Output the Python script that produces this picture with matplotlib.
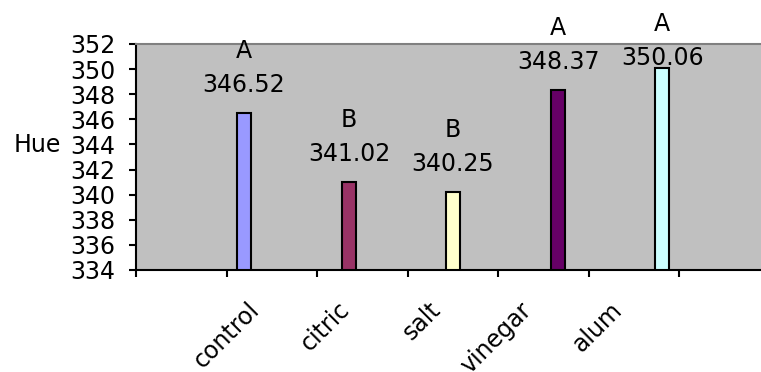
import matplotlib
matplotlib.use("Agg")
import matplotlib.pyplot as plt

# values
treatments = ["control", "citric", "salt", "vinegar", "alum"]
hue_values = [346.52, 341.02, 340.25, 348.37, 350.06]
groups = ["A", "B", "B", "A", "A"]
bar_colors = ["#9999FF", "#993366", "#FFFFCC", "#660066", "#CCFFFF"]

y_ticks = list(range(334, 353, 2))

plt.rcParams["font.family"] = "DejaVu Sans"
FS = 17

fig = plt.figure(figsize=(7.61, 3.72), dpi=100)
# axes runs a little past the right edge like the original Excel export
ax = fig.add_axes([136 / 761, 1 - 270 / 372, 634 / 761, 226 / 372])
ax.set_facecolor("#C0C0C0")

# bar centers (in category units) as they sit in the original
bar_x = [1.192, 2.352, 3.50, 4.66, 5.81]
ax.bar(bar_x, [v - 334 for v in hue_values], bottom=334, width=0.155,
       color=bar_colors, edgecolor="black", linewidth=1.5, zorder=3)

# value labels and significance letters
value_offset = [2.2, 2.2, 2.2, 2.2, 0.85]
for x, v, g, off in zip(bar_x, hue_values, groups, value_offset):
    ax.text(x, v + off, f"{v:.2f}", ha="center", va="center", fontsize=FS,
            clip_on=False, zorder=4)
    ax.text(x, v + off + 2.7, g, ha="center", va="center", fontsize=FS,
            clip_on=False, zorder=4)

ax.set_xlim(0, 7)
ax.set_ylim(334, 352)
ax.set_yticks(y_ticks)
ax.set_yticklabels([str(t) for t in y_ticks], fontsize=FS)

ax.set_xticks(range(0, 8))
ax.set_xticklabels([])
ax.set_xticks([1.23, 2.23, 3.23, 4.23, 5.23], minor=True)
ax.set_xticklabels(treatments, minor=True, fontsize=FS, rotation=45,
                   ha="right", va="top", rotation_mode="anchor")
ax.tick_params(axis="x", which="minor", length=0, pad=20)
ax.tick_params(axis="x", which="major", direction="out", length=5, width=1.5)
ax.tick_params(axis="y", direction="out", length=5, width=1.5, pad=10)

ax.set_ylabel("Hue", rotation=0, ha="right", va="center", fontsize=FS)
ax.yaxis.set_label_coords(-0.118, 0.553)

for side in ("left", "bottom"):
    ax.spines[side].set_linewidth(1.5)
    ax.spines[side].set_color("black")
ax.spines["top"].set_color("#808080")
ax.spines["top"].set_linewidth(1.5)
ax.spines["right"].set_visible(False)

fig.savefig("out.png", dpi=100)
